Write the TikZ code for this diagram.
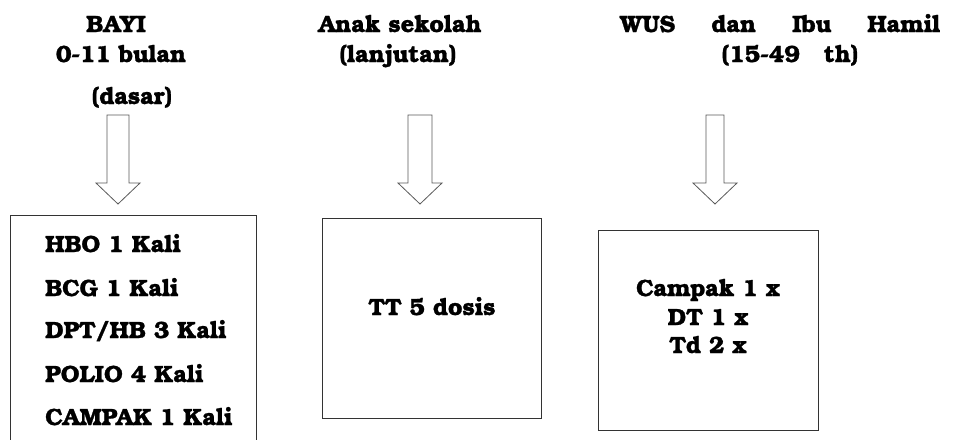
\documentclass[tikz,border=0pt]{standalone}
\usepackage{fontspec}
\setmainfont{TeX Gyre Bonum}[BoldFeatures={FakeBold=1.2}]
\usetikzlibrary{calc}
\begin{document}
\begin{tikzpicture}[x=1pt,y=-1pt,
  txt/.style={inner sep=0pt,font=\fontsize{23.5}{28}\selectfont\bfseries},
  boxline/.style={draw=black!80,line width=0.9pt},
  blockarrow/.style={draw=black!65,line width=0.8pt,fill=white}]
\useasboundingbox[fill=white] (0,0) rectangle (955,439);
% titles
\node[txt,anchor=base] (bayi) at (116,32) {BAYI};
\node[txt,anchor=base] (bulan) at (121,62) {0-11 bulan};
\node[txt,anchor=base] (dasar) at (132,104) {(dasar)};
\node[txt,anchor=base] (anak) at (400,32) {Anak sekolah};
\node[txt,anchor=base] (lanj) at (398,62) {(lanjutan)};
\node[txt,anchor=base west] (wus) at (620,32) {\makebox[320pt][s]{WUS\hfill dan\hfill Ibu\hfill Hamil}};
\node[txt,anchor=base] (umur) at (790,62) {(15-49~~~th)};
% block arrows
\coordinate (a1) at (118,115);
\coordinate (a2) at (420,115);
\coordinate (a3) at (715,115);
\foreach \c/\w in {a1/11,a2/12,a3/9}{
  \draw[blockarrow] ($(\c)+(-\w,0)$) -- ($(\c)+(\w,0)$) -- ($(\c)+(\w,68)$) -- ($(\c)+(22,68)$)
     -- ($(\c)+(0,89)$) -- ($(\c)+(-22,68)$) -- ($(\c)+(-\w,68)$) -- cycle;
}
% boxes
\draw[boxline] (10,445) -- (10,215) coordinate (b1tl) -- (256,215) -- (256,445);
\node[txt,anchor=base west] (hbo) at (45,252) {HBO 1 Kali};
\node[txt,anchor=base west] (bcg) at (45,296) {BCG 1 Kali};
\node[txt,anchor=base west] (dpt) at (45,338) {DPT/HB 3 Kali};
\node[txt,anchor=base west] (polio) at (45,382) {POLIO 4 Kali};
\node[txt,anchor=base west] (campak) at (45,425) {CAMPAK 1 Kali};
\node[boxline,minimum width=219pt,minimum height=200pt,anchor=north west] (b2) at (322,218) {};
\node[txt,anchor=base] (tt) at (432,315) {TT 5 dosis};
\node[boxline,minimum width=220pt,minimum height=200pt,anchor=north west] (b3) at (598,230) {};
\node[txt,anchor=base] (c1) at (708,296) {Campak 1 x};
\node[txt,anchor=base] (c2) at (708,325) {DT 1 x};
\node[txt,anchor=base] (c3) at (708,353) {Td 2 x};
\end{tikzpicture}
\end{document}
